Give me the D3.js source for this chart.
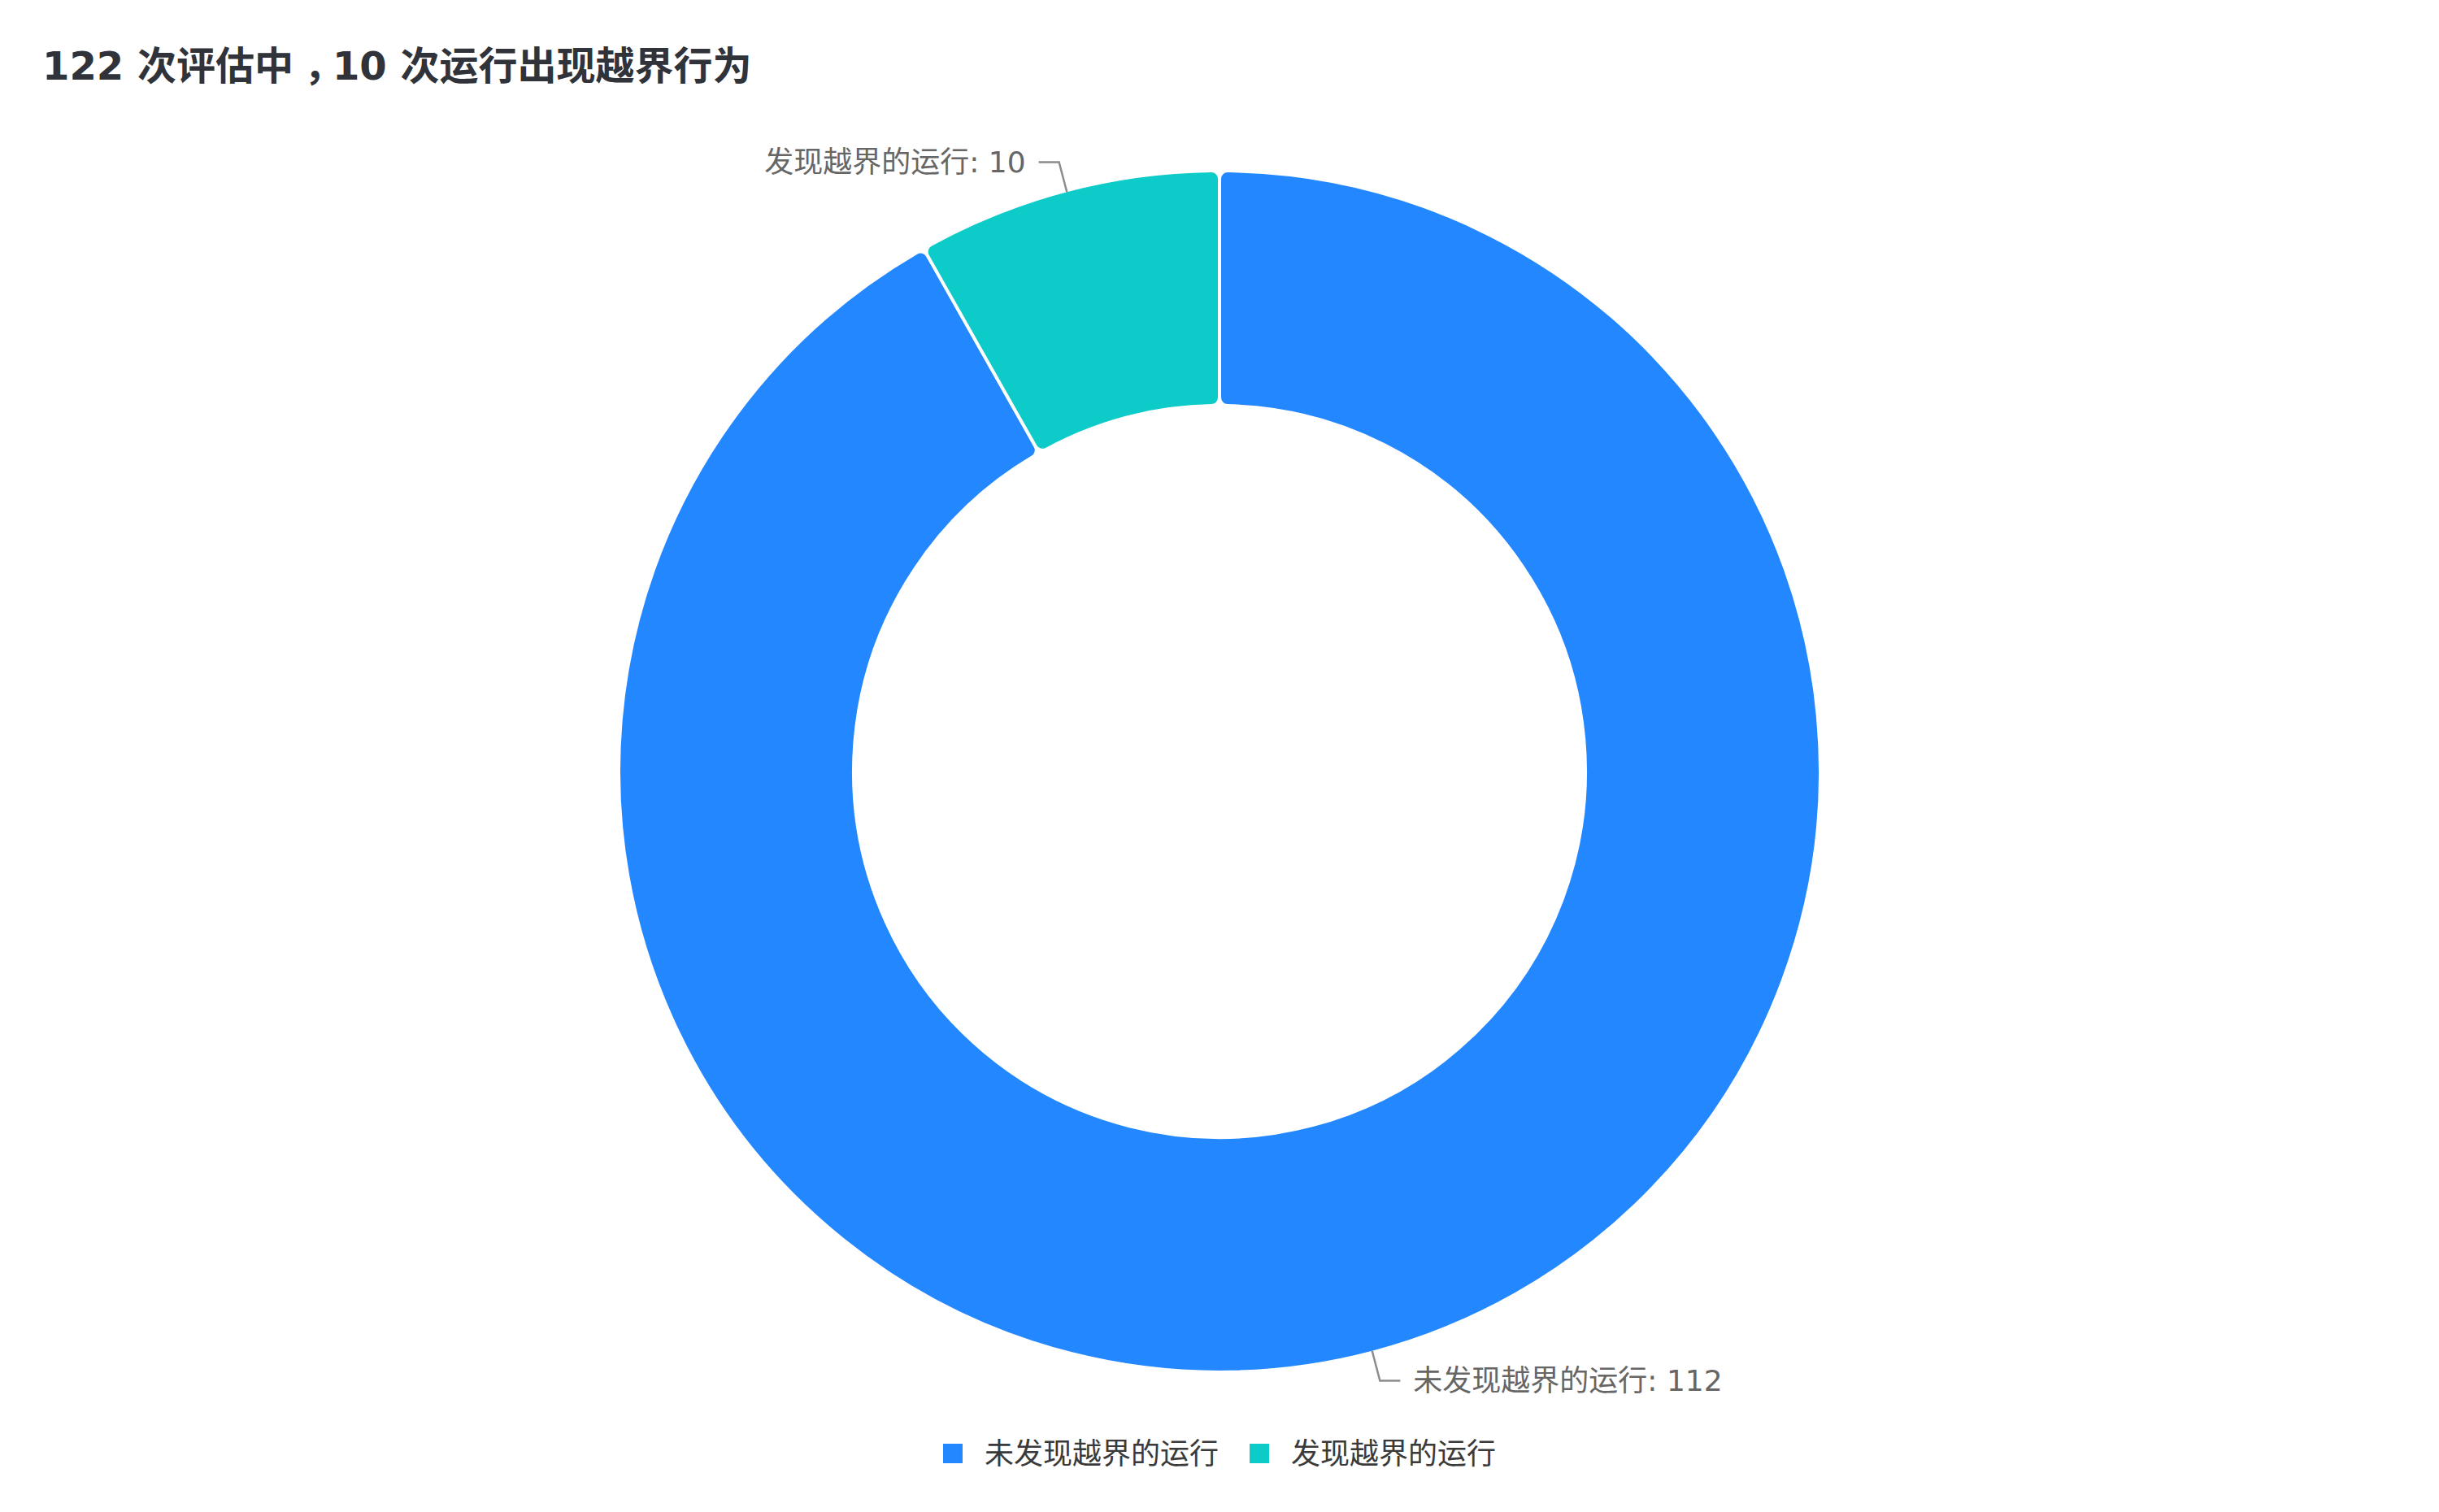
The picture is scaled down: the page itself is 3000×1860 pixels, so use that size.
<!DOCTYPE html>
<html>
<head>
<meta charset="utf-8">
<script src="https://cdn.jsdelivr.net/npm/d3@7"></script>
<style>
  html, body { margin: 0; padding: 0; background: #fff; }
  svg { display: block; font-family: "DejaVu Sans", "Noto Sans CJK SC", sans-serif; }
</style>
</head>
<body>
<div id="chart"></div>
<script>
// data
const title = "122 次评估中，10 次运行出现越界行为";
const categories = ["未发现越界的运行", "发现越界的运行"];
const values = [112, 10];
const colors = ["#2388ff", "#0ccbc8"];

const width = 3000,
  height = 1860;
const cx = 1500,
  cy = 949;
const outerR = 739,
  innerR = 450;

const svg = d3
  .select("#chart")
  .append("svg")
  .attr("width", width)
  .attr("height", height);

// title (the full-width comma sits centred in its box in the original)
const titleText = svg
  .append("text")
  .attr("x", 52)
  .attr("y", 98)
  .attr("font-size", 48)
  .attr("font-weight", "bold")
  .attr("fill", "#30333a");
title.split(/(，)/).forEach((part) => {
  const t = titleText.append("tspan").text(part);
  if (part === "，") t.attr("dx", 13).style("letter-spacing", "-13px");
});

const color = d3.scaleOrdinal().domain(categories).range(colors);

const pie = d3
  .pie()
  .sort(null)
  .value((d, i) => values[i]);
const data_ready = pie(categories);

const arcGenerator = d3
  .arc()
  .innerRadius(innerR)
  .outerRadius(outerR)
  .cornerRadius(10);

const g = svg.append("g").attr("transform", `translate(${cx}, ${cy})`);

// slices
g.selectAll("path.slice")
  .data(data_ready)
  .join("path")
  .attr("class", "slice")
  .attr("d", arcGenerator)
  .attr("fill", (d) => color(d.data))
  .attr("stroke", "#fff")
  .attr("stroke-width", 4)
  .attr("stroke-linejoin", "round");

// leader lines + labels
const rEdge = outerR - 2,
  rElbow = outerR + 36;
function labelPoints(d) {
  const a = (d.startAngle + d.endAngle) / 2;
  const s = Math.sin(a),
    c = -Math.cos(a);
  const dir = s >= 0 ? 1 : -1;
  const p1 = [s * rEdge, c * rEdge];
  const p2 = [s * rElbow, c * rElbow];
  const p3 = [p2[0] + dir * 25, p2[1]];
  return { p1, p2, p3, dir };
}

g.selectAll("polyline.leader")
  .data(data_ready)
  .join("polyline")
  .attr("class", "leader")
  .attr("points", (d) => {
    const p = labelPoints(d);
    return [p.p1, p.p2, p.p3].map((q) => q.join(",")).join(" ");
  })
  .attr("fill", "none")
  .attr("stroke", "#8c8c8c")
  .attr("stroke-width", 2.5);

g.selectAll("text.label")
  .data(data_ready)
  .join("text")
  .attr("class", "label")
  .attr("x", (d) => {
    const p = labelPoints(d);
    return p.p3[0] + p.dir * 16;
  })
  .attr("y", (d) => labelPoints(d).p3[1])
  .attr("text-anchor", (d) => (labelPoints(d).dir > 0 ? "start" : "end"))
  .attr("dominant-baseline", "central")
  .attr("font-size", 36)
  .attr("fill", "#666")
  .text((d, i) => `${d.data}: ${values[i]}`);

// legend
const legend = svg.append("g");
const items = legend
  .selectAll("g.item")
  .data(categories)
  .join("g")
  .attr("class", "item");
items
  .append("rect")
  .attr("width", 24)
  .attr("height", 24)
  .attr("y", -12)
  .attr("fill", (d) => color(d));
items
  .append("text")
  .attr("x", 51)
  .attr("dominant-baseline", "central")
  .attr("font-size", 36)
  .attr("fill", "#3a3a3a")
  .text((d) => d);

let xpos = 0;
items.each(function () {
  const w = 51 + d3.select(this).select("text").node().getComputedTextLength();
  d3.select(this).attr("transform", `translate(${xpos}, 0)`);
  xpos += w + 38;
});
const legendW = xpos - 38;
legend.attr("transform", `translate(${cx - legendW / 2}, 1788)`);
</script>
</body>
</html>
